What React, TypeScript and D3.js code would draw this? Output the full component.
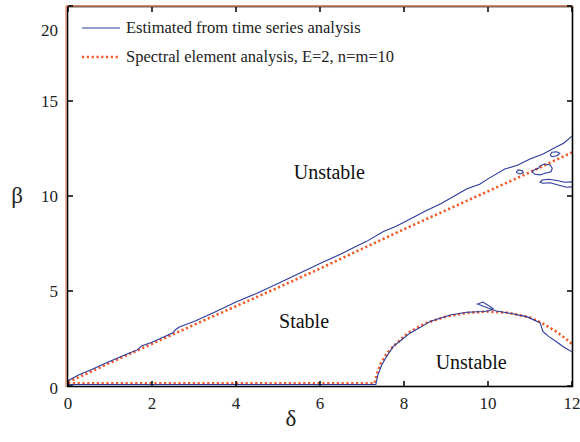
import * as d3 from "d3";

type Pt = [number, number];

// upper stability boundary, estimated from time series (delta, beta)
const upperEstimated: Pt[] = [
  [0, 0.28], [0.25, 0.58], [0.55, 0.85], [1.0, 1.3], [1.45, 1.72], [1.65, 1.9],
  [1.75, 2.1], [2.0, 2.3], [2.5, 2.8], [2.55, 2.95], [2.65, 3.1], [3.0, 3.4],
  [3.5, 3.9], [4.0, 4.42], [4.5, 4.88], [5.0, 5.4], [5.5, 5.92], [6.0, 6.45],
  [6.5, 6.95], [6.9, 7.4], [7.1, 7.6], [7.5, 8.12], [7.8, 8.4], [8.0, 8.62],
  [8.5, 9.2], [8.9, 9.62], [9.0, 9.75], [9.5, 10.38], [9.8, 10.62], [10.0, 10.9],
  [10.4, 11.42], [10.7, 11.62], [11.0, 11.95], [11.3, 12.2], [11.6, 12.55],
  [11.8, 12.78], [12.0, 13.15],
];

// small closed contours near the right edge
const islandA: Pt[] = [
  [11.48, 12.16], [11.52, 12.3], [11.64, 12.33], [11.71, 12.25], [11.64, 12.12],
  [11.52, 12.07], [11.48, 12.16],
];
const islandB: Pt[] = [
  [10.67, 11.25], [10.72, 11.37], [10.82, 11.33], [10.84, 11.23], [10.76, 11.16],
  [10.67, 11.25],
];
const islandC: Pt[] = [
  [11.04, 11.28], [11.12, 11.4], [11.2, 11.46], [11.24, 11.58], [11.34, 11.68],
  [11.48, 11.63], [11.53, 11.46], [11.5, 11.28], [11.36, 11.2], [11.24, 11.11],
  [11.12, 11.14], [11.04, 11.28],
];
const tongue: Pt[] = [
  [12.05, 10.75], [11.83, 10.72], [11.67, 10.8], [11.44, 10.88], [11.29, 10.84],
  [11.24, 10.72], [11.31, 10.67], [11.48, 10.7], [11.67, 10.58], [11.87, 10.46],
  [12.05, 10.49],
];

// lower boundary, estimated from time series
const lowerEstimated: Pt[] = [
  [0, 0.08], [7.33, 0.08], [7.38, 0.6], [7.47, 1.1], [7.6, 1.6], [7.74, 2.07],
  [7.95, 2.45], [8.14, 2.78], [8.4, 3.1], [8.62, 3.39], [9.1, 3.74], [9.49, 3.88],
  [9.9, 3.92], [10.05, 3.97], [10.12, 4.08], [9.88, 4.42], [9.75, 4.32],
  [10.0, 4.1], [10.2, 3.95], [10.52, 3.83], [10.92, 3.65], [11.24, 3.33],
  [11.31, 2.86], [11.45, 2.6], [11.63, 2.33], [11.8, 2.05], [12.0, 1.8],
];

// spectral element analysis, E=2, n=m=10
const upperSpectral: Pt[] = [
  [0, 0.2], [1, 1.22], [2, 2.22], [3, 3.22], [4, 4.2], [5, 5.18], [6, 6.18],
  [7, 7.22], [8, 8.25], [9, 9.25], [10, 10.25], [11, 11.25], [12, 12.3],
];
const lowerSpectral: Pt[] = [
  [0, 0.14], [7.3, 0.14], [7.35, 0.6], [7.45, 1.2], [7.6, 1.75], [7.8, 2.2],
  [8.1, 2.8], [8.5, 3.3], [9.0, 3.65], [9.5, 3.85], [10.0, 3.92], [10.5, 3.85],
  [11.0, 3.6], [11.3, 3.3], [11.6, 2.9], [11.85, 2.5], [12.0, 2.2],
];

const xTicks = [0, 2, 4, 6, 8, 10, 12];
const yTicks = [0, 5, 10, 15, 20];
const legendLabels = [
  "Estimated from time series analysis",
  "Spectral element analysis, E=2, n=m=10",
];
const regionLabels: { text: string; d: number; b: number }[] = [
  { text: "Unstable", d: 6.22, b: 10.9 },
  { text: "Stable", d: 5.62, b: 3.05 },
  { text: "Unstable", d: 9.6, b: 0.9 },
];

const W = 580;
const H = 442;
const BLUE = "#2b3a9c";
const RED = "#f25a28";
const FONT = "Liberation Serif";

export default function App() {
  const x = d3.scaleLinear().domain([0, 12]).range([68, 572]);
  const y = d3.scaleLinear().domain([0, 20]).range([386, 6]);
  const line = d3
    .line<Pt>()
    .x((d) => x(d[0]))
    .y((d) => y(d[1]));

  const blueSets = [upperEstimated, lowerEstimated, islandA, islandB, islandC, tongue];
  const redSets = [upperSpectral, lowerSpectral];
  const txt = { fontFamily: FONT };

  return (
    <svg width={W} height={H} style={{ position: "absolute", left: 0, top: 0, background: "#fff" }}>
      <defs>
        <clipPath id="plot">
          <rect x={68} y={6} width={504} height={380} />
        </clipPath>
      </defs>

      <g clipPath="url(#plot)" fill="none">
        {redSets.map((s, i) => (
          <path key={"r" + i} d={line(s)!} stroke={RED} strokeWidth={2.6} strokeDasharray="2.2 2.6" />
        ))}
        {blueSets.map((s, i) => (
          <path key={"b" + i} d={line(s)!} stroke={BLUE} strokeWidth={1.1} />
        ))}
      </g>

      {/* frame */}
      <rect x={67.5} y={6.5} width={505} height={380} fill="none" stroke="#000" strokeWidth={1.6} />
      <line x1={66} x2={66} y1={6} y2={387} stroke="#d9805f" strokeWidth={1.2} />
      <line x1={66} x2={573} y1={6} y2={6} stroke="#d9805f" strokeWidth={1.6} />

      {/* ticks */}
      {xTicks.map((t) => (
        <g key={"xt" + t}>
          <line x1={x(t)} x2={x(t)} y1={386} y2={381} stroke="#000" strokeWidth={1.5} />
          <line x1={x(t)} x2={x(t)} y1={7} y2={12} stroke="#000" strokeWidth={1.5} />
          <text x={x(t)} y={409} textAnchor="middle" fontSize={17} fill="#222" style={txt}>
            {t}
          </text>
        </g>
      ))}
      {yTicks.map((t) => (
        <g key={"yt" + t}>
          <line x1={68} x2={73} y1={y(t)} y2={y(t)} stroke="#000" strokeWidth={1.5} />
          <line x1={572} x2={567} y1={y(t)} y2={y(t)} stroke="#000" strokeWidth={1.5} />
          <text
            x={58}
            y={t === 20 ? 36 : t === 0 ? y(t) + 8 : y(t) + 6}
            textAnchor="end"
            fontSize={17}
            fill="#222"
            style={txt}
          >
            {t}
          </text>
        </g>
      ))}

      {/* axis titles */}
      <text x={17} y={203} textAnchor="middle" fontSize={23} fill="#222" style={txt}>
        β
      </text>
      <text x={291} y={426} textAnchor="middle" fontSize={23} fill="#222" style={txt}>
        δ
      </text>

      {/* legend */}
      <line x1={82} x2={120} y1={28} y2={28} stroke={BLUE} strokeWidth={1.2} />
      <text x={126} y={33} fontSize={16.5} fill="#222" style={txt}>
        {legendLabels[0]}
      </text>
      <line x1={82} x2={120} y1={57} y2={57} stroke={RED} strokeWidth={2.6} strokeDasharray="2.2 2.6" />
      <text x={126} y={62} fontSize={16.5} fill="#222" style={txt}>
        {legendLabels[1]}
      </text>

      {regionLabels.map((r, i) => (
        <text key={"lab" + i} x={x(r.d)} y={y(r.b)} textAnchor="middle" fontSize={20} fill="#111" style={txt}>
          {r.text}
        </text>
      ))}
    </svg>
  );
}
